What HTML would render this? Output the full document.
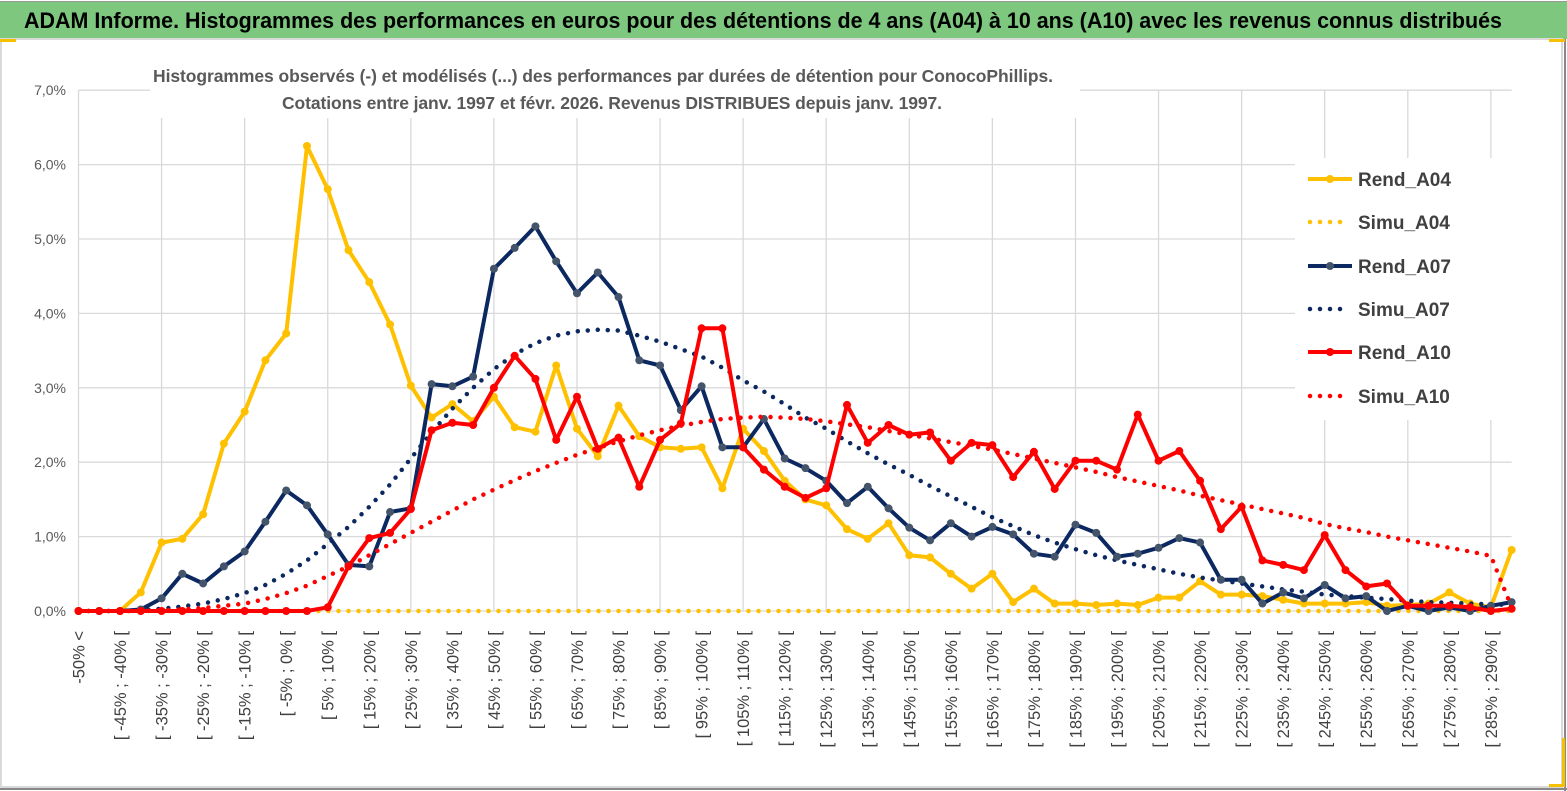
<!DOCTYPE html>
<html><head><meta charset="utf-8">
<style>
html,body{margin:0;padding:0;background:#fff;}
body{width:1567px;height:791px;overflow:hidden;position:relative;font-family:"Liberation Sans",sans-serif;}
#title{position:absolute;left:0;top:1px;width:1567px;height:38px;background:#7dc77f;border-top:1px solid #999;box-sizing:border-box;}
svg{position:absolute;left:0;top:0;}
</style></head>
<body>
<div id="title"></div>
<svg id="chart" width="1567" height="791"></svg>
<script>
const categories = ["-50% <"];
for (let a = -50; a <= 290; a += 5) categories.push("[ " + a + "% ; " + (a + 5) + "% [");
const yTicks = [0,1,2,3,4,5,6,7];
const rendA04 = [0,0,0,0.25,0.92,0.97,1.3,2.25,2.68,3.37,3.73,6.25,5.67,4.85,4.42,3.85,3.03,2.6,2.78,2.55,2.88,2.47,2.41,3.3,2.45,2.08,2.76,2.35,2.2,2.18,2.2,1.65,2.45,2.15,1.75,1.5,1.42,1.1,0.97,1.18,0.75,0.72,0.5,0.3,0.5,0.12,0.3,0.1,0.1,0.08,0.1,0.08,0.18,0.18,0.4,0.22,0.22,0.2,0.15,0.1,0.1,0.1,0.12,0.07,0.08,0.1,0.25,0.1,0.05,0.82];
const simuA04 = new Array(70).fill(0);
const rendA07 = [0,0,0,0.02,0.17,0.5,0.37,0.6,0.8,1.2,1.62,1.42,1.03,0.62,0.6,1.33,1.38,3.05,3.02,3.15,4.6,4.88,5.17,4.7,4.27,4.55,4.22,3.37,3.3,2.7,3.02,2.2,2.2,2.58,2.05,1.92,1.75,1.45,1.67,1.38,1.12,0.95,1.18,1.0,1.13,1.03,0.77,0.73,1.16,1.05,0.73,0.77,0.85,0.98,0.92,0.42,0.42,0.1,0.25,0.17,0.35,0.17,0.2,0.0,0.07,0.0,0.05,0.0,0.07,0.12];
const simuA07 = [0,0,0,0.01,0.03,0.06,0.1,0.16,0.24,0.35,0.5,0.68,0.9,1.13,1.4,1.7,2.05,2.4,2.72,3.0,3.25,3.45,3.6,3.7,3.76,3.78,3.77,3.7,3.62,3.52,3.42,3.27,3.1,2.95,2.78,2.6,2.45,2.28,2.12,1.97,1.83,1.68,1.54,1.4,1.26,1.14,1.02,0.92,0.83,0.75,0.68,0.62,0.56,0.5,0.45,0.41,0.37,0.33,0.29,0.26,0.22,0.2,0.18,0.16,0.14,0.12,0.11,0.1,0.09,0.08];
const rendA10 = [0,0,0,0,0,0,0,0,0,0,0,0,0.05,0.6,0.98,1.05,1.37,2.43,2.53,2.5,3.0,3.43,3.12,2.3,2.88,2.18,2.33,1.67,2.3,2.52,3.8,3.8,2.2,1.9,1.67,1.52,1.65,2.77,2.26,2.5,2.37,2.4,2.02,2.26,2.23,1.8,2.14,1.64,2.02,2.02,1.9,2.64,2.02,2.15,1.75,1.1,1.4,0.68,0.62,0.55,1.02,0.55,0.33,0.37,0.07,0.07,0.07,0.05,0.0,0.03];
const simuA10 = [0,0,0,0,0.01,0.02,0.04,0.07,0.1,0.16,0.24,0.34,0.47,0.6,0.75,0.9,1.05,1.2,1.35,1.5,1.63,1.76,1.88,1.99,2.1,2.19,2.28,2.36,2.43,2.49,2.54,2.58,2.6,2.61,2.6,2.58,2.55,2.51,2.47,2.42,2.37,2.32,2.27,2.22,2.17,2.11,2.05,1.99,1.93,1.87,1.8,1.74,1.68,1.62,1.55,1.49,1.43,1.37,1.31,1.25,1.17,1.11,1.06,1.0,0.95,0.9,0.85,0.8,0.74,0.05];

const NS = "http://www.w3.org/2000/svg";
const svg = document.getElementById("chart");
const X0 = 78.5, DX = 20.77, Y0 = 611, DY = 74.4;
function xs(i){ return X0 + i * DX; }
function ys(v){ return Y0 - v * DY; }
function mk(tag, attrs, parent){
  const e = document.createElementNS(NS, tag);
  for (const k in attrs) e.setAttribute(k, attrs[k]);
  (parent || svg).appendChild(e);
  return e;
}
const ttl = mk("text",{x:24,y:28,"font-size":22,"font-weight":"bold",fill:"#000",textLength:1478,lengthAdjust:"spacingAndGlyphs"});
ttl.textContent = "ADAM Informe. Histogrammes des performances en euros pour des détentions de 4 ans (A04) à 10 ans (A10) avec les revenus connus distribués";


// outer border
const border = mk("rect",{x:1,y:39,width:1561,height:748,fill:"none",stroke:"#d9d9d9","stroke-width":2});


mk("line",{x1:0,y1:789,x2:1567,y2:789,stroke:"#888","stroke-width":2});
mk("line",{x1:1565,y1:39,x2:1565,y2:791,stroke:"#888","stroke-width":2});
mk("rect",{x:0,y:39,width:16,height:3,fill:"#f5c000"});
mk("rect",{x:1549,y:39,width:16,height:3,fill:"#f5c000"});
mk("rect",{x:1549,y:784,width:16,height:3,fill:"#f5c000"});
mk("rect",{x:1562,y:738,width:3,height:48,fill:"#f5c000"});

// grid
const grid = mk("g",{});


yTicks.forEach(t=>{
  mk("line",{x1:X0,y1:ys(t),x2:xs(69),y2:ys(t),stroke:"#d9d9d9","stroke-width":1.3},grid);
  const lab = mk("text",{x:66,y:ys(t)+5,"text-anchor":"end","font-size":14,fill:"#595959"});
  lab.textContent = t.toFixed(1).replace(".",",") + "%";
  
  
});
for (let i = 0; i < categories.length; i += 4) {
  mk("line",{x1:xs(i),y1:ys(7),x2:xs(i),y2:Y0,stroke:"#d9d9d9","stroke-width":1.3},grid);
}
// x labels
categories.forEach((c,i)=>{
  if (i % 2) return;
  const t = mk("text",{x:0,y:0,"text-anchor":"end","font-size":16.5,fill:"#404040",transform:`translate(${xs(i)+6},${631}) rotate(-90)`});
  t.textContent = c;
  
  
});
// subtitle (white bg)
mk("rect",{x:150,y:60,width:930,height:58,fill:"#fff"});
const st1 = mk("text",{x:603,y:82,"text-anchor":"middle","font-size":17.5,"font-weight":"bold",fill:"#595959",textLength:900});
st1.textContent = "Histogrammes observés (-) et modélisés (...) des performances par durées de détention pour ConocoPhillips.";


const st2 = mk("text",{x:612,y:109,"text-anchor":"middle","font-size":17.5,"font-weight":"bold",fill:"#595959",textLength:660});
st2.textContent = "Cotations entre janv. 1997 et févr. 2026. Revenus DISTRIBUES depuis janv. 1997.";



// legend bg
mk("rect",{x:1295,y:158,width:225,height:262,fill:"#fff"});

function pathOf(arr){ return arr.map((v,i)=>(i?"L":"M")+xs(i).toFixed(1)+","+ys(v).toFixed(1)).join(""); }
function dotted(arr,color,name){
  const p = mk("path",{d:pathOf(arr),fill:"none",stroke:color,"stroke-width":4.5,"stroke-dasharray":"0 10","stroke-linecap":"round"});
  
  
}
function solid(arr,color,mcolor,name){
  const g = mk("g",{});
  
  
  mk("path",{d:pathOf(arr),fill:"none",stroke:color,"stroke-width":4,"stroke-linejoin":"round"},g);
  arr.forEach((v,i)=>{
    const c = mk("circle",{cx:xs(i),cy:ys(v),r:4,fill:mcolor},g);
    
    
  });
}
const YEL="#ffc000", NAV="#0c2860", NAVM="#44546a", RED="#ff0000";
dotted(simuA04,YEL,"series-simu-a04");
solid(rendA04,YEL,YEL,"series-rend-a04");
dotted(simuA07,NAV,"series-simu-a07");
solid(rendA07,NAV,NAVM,"series-rend-a07");
dotted(simuA10,RED,"series-simu-a10");
solid(rendA10,RED,RED,"series-rend-a10");

// legend
const leg = [["Rend_A04",YEL,false,YEL],["Simu_A04",YEL,true],["Rend_A07",NAV,false,NAVM],["Simu_A07",NAV,true],["Rend_A10",RED,false,RED],["Simu_A10",RED,true]];
const legY = [179,222,266,309,352,396];
leg.forEach((e,k)=>{
  const g = mk("g",{});
  
  
  const y = legY[k];
  if (e[2]) {
    mk("line",{x1:1310,y1:y,x2:1346,y2:y,stroke:e[1],"stroke-width":4.5,"stroke-dasharray":"0 10","stroke-linecap":"round"},g);
  } else {
    mk("line",{x1:1308,y1:y,x2:1352,y2:y,stroke:e[1],"stroke-width":4},g);
    mk("circle",{cx:1330,cy:y,r:4,fill:e[3]},g);
  }
  const t = mk("text",{x:1358,y:y+7,"font-size":19,"font-weight":"bold",fill:"#404040"},g);
  t.textContent = e[0];
});
</script>
</body></html>
